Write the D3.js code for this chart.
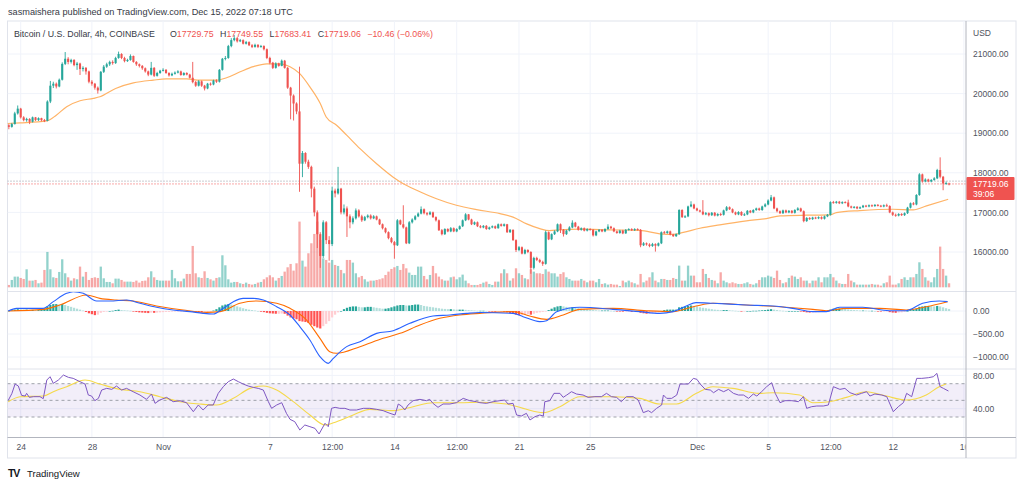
<!DOCTYPE html>
<html><head><meta charset="utf-8">
<script src="https://cdn.jsdelivr.net/npm/d3@7"></script>
<style>
html,body{margin:0;padding:0;background:#fff;}
svg{display:block;font-family:"Liberation Sans",Arial,sans-serif;}
</style></head><body>
<svg id="c" width="1024" height="487"></svg>
<script>
// ---------- DATA ----------
// 4h candles from 2022-10-23 08:00 UTC, [open, high, low, close]
const ohlc = [
[19200,19230,19100,19160],[19160,19260,19140,19230],[19230,19540,19220,19500],[19500,19700,19470,19620],[19620,19640,19370,19400],
[19400,19430,19300,19330],[19330,19390,19290,19360],[19360,19380,19230,19290],[19290,19420,19270,19400],[19400,19410,19310,19330],
// 10
[19330,19400,19310,19380],[19380,19390,19300,19330],[19330,19360,19280,19310],[19310,19830,19300,19800],[19800,20320,19760,20200],
[20200,20300,20140,20250],[20250,20280,20130,20180],[20180,20380,20160,20350],[20350,20790,20330,20750],[20750,21050,20720,20880],
// 20
[20880,20920,20740,20800],[20800,20880,20760,20850],[20850,20870,20690,20720],[20720,20800,20600,20760],[20760,20780,20470,20620],
[20620,20690,20560,20650],[20650,20670,20480,20560],[20560,20580,20260,20300],[20300,20340,20200,20250],[20250,20270,20100,20150],
// 30
[20150,20180,20000,20080],[20080,20570,20060,20550],[20550,20720,20520,20680],[20680,20780,20650,20740],[20740,20830,20700,20800],
[20800,20840,20730,20770],[20770,20930,20750,20900],[20900,21060,20880,21000],[21000,21020,20870,20900],[20900,20930,20790,20820],
// 40
[20820,20880,20800,20850],[20850,20990,20830,20950],[20950,20960,20780,20800],[20800,20820,20700,20740],[20740,20760,20660,20700],
[20700,20720,20600,20640],[20640,20660,20530,20560],[20560,20580,20440,20480],[20480,20800,20460,20650],[20650,20670,20420,20450],
// 50
[20450,20550,20430,20520],[20520,20600,20500,20580],[20580,20640,20560,20600],[20600,20620,20500,20520],[20520,20540,20430,20460],
[20460,20530,20440,20500],[20500,20560,20480,20530],[20530,20590,20510,20560],[20560,20580,20450,20470],[20470,20540,20450,20520],
// 60
[20520,20540,20460,20480],[20480,20500,20380,20400],[20400,20800,20260,20290],[20290,20320,20170,20200],[20200,20340,20180,20310],
[20310,20330,20170,20200],[20200,20220,20080,20130],[20130,20270,20110,20250],[20250,20280,20200,20230],[20230,20350,20210,20330],
// 70
[20330,20360,20270,20300],[20300,20620,20280,20600],[20600,20900,20580,20880],[20880,20950,20840,20900],[20900,21230,20880,21200],
[21200,21400,21170,21350],[21350,21480,21320,21400],[21400,21430,21290,21320],[21320,21380,21300,21350],[21350,21370,21240,21260],
// 80
[21260,21330,21240,21300],[21300,21320,21200,21220],[21220,21250,21150,21180],[21180,21260,21160,21230],[21230,21250,21150,21180],
[21180,21230,21160,21200],[21200,21220,21090,21120],[21120,21140,20870,20900],[20900,20930,20740,20780],[20780,20800,20620,20650],
// 90
[20650,20790,20630,20760],[20760,20780,20680,20700],[20700,20860,20690,20830],[20830,20850,20630,20650],[20650,20670,20120,20150],
[20150,20170,19350,19950],[19950,19980,19320,19750],[19750,19780,19480,19550],[19550,20680,17520,18230],[18230,18550,17890,18500],
// 100
[18500,18520,18230,18280],[18280,18330,18100,18150],[18150,18180,17380,17600],[17600,17650,16900,17000],[17000,17050,16100,16450],
[16450,16500,15600,15900],[15900,16800,15850,16750],[16750,16780,16200,16300],[16300,16400,15780,16200],[16200,17650,16150,17550],
// 110
[17550,17600,17380,17480],[17480,18150,17450,17600],[17600,17620,16950,17000],[17000,17200,16950,17100],[17100,17150,16380,16900],
[16900,16950,16600,16750],[16750,16900,16700,16850],[16850,17100,16820,17050],[17050,17080,16870,16900],[16900,16940,16760,16800],
// 120
[16800,16910,16780,16880],[16880,16950,16850,16920],[16920,16950,16820,16850],[16850,16930,16830,16900],[16900,16920,16800,16820],
[16820,16840,16680,16700],[16700,16720,16570,16600],[16600,16620,16470,16500],[16500,16520,16320,16350],[16350,16380,16220,16250],
// 130
[16250,16280,15830,16170],[16170,16830,16150,16800],[16800,16820,16680,16700],[16700,17180,16590,16620],[16620,16640,16200,16220],
[16220,16780,16200,16750],[16750,16850,16720,16820],[16820,16930,16800,16900],[16900,17000,16880,16970],[16970,17150,16950,17080],
// 140
[17080,17100,16950,16980],[16980,17010,16920,16950],[16950,17030,16930,17000],[17000,17020,16860,16880],[16880,16900,16770,16800],
[16800,16820,16530,16550],[16550,16580,16420,16450],[16450,16600,16430,16580],[16580,16600,16500,16520],[16520,16630,16500,16600],
// 150
[16600,16620,16500,16520],[16520,16600,16500,16580],[16580,16670,16560,16650],[16650,16820,16630,16800],[16800,16980,16780,16950],
[16950,16960,16800,16820],[16820,16840,16680,16700],[16700,16770,16680,16750],[16750,16770,16630,16650],[16650,16680,16600,16620],
// 160
[16620,16680,16600,16660],[16660,16680,16560,16580],[16580,16640,16560,16620],[16620,16670,16600,16650],[16650,16670,16580,16600],
[16600,16720,16590,16700],[16700,16720,16640,16660],[16660,16720,16640,16700],[16700,16710,16480,16500],[16500,16580,16480,16560],
// 170
[16560,16570,16280,16300],[16300,16320,16000,16050],[16050,16150,16020,16120],[16120,16140,15940,15960],[15960,16080,15940,16050],
[16050,16070,15970,16000],[16000,16020,15450,15600],[15600,15880,15560,15850],[15850,15880,15770,15800],[15800,15830,15720,15750],
// 180
[15750,15780,15650,15700],[15700,16540,15680,16500],[16500,16520,16300,16320],[16320,16470,16300,16450],[16450,16550,16430,16520],
[16520,16720,16500,16700],[16700,16720,16480,16560],[16560,16580,16390,16450],[16450,16560,16430,16540],[16540,16650,16520,16620],
// 190
[16620,16800,16600,16740],[16740,16760,16620,16640],[16640,16660,16540,16560],[16560,16620,16540,16600],[16600,16620,16520,16540],
[16540,16600,16520,16580],[16580,16600,16540,16560],[16560,16580,16390,16420],[16420,16540,16400,16520],[16520,16580,16500,16560],
// 200
[16560,16580,16500,16520],[16520,16600,16500,16580],[16580,16700,16560,16640],[16640,16660,16580,16600],[16600,16620,16500,16520],
[16520,16540,16460,16480],[16480,16560,16460,16540],[16540,16560,16450,16470],[16470,16580,16460,16560],[16560,16600,16540,16580],
// 210
[16580,16600,16530,16550],[16550,16600,16530,16580],[16580,16600,16540,16560],[16560,16580,16120,16170],[16170,16250,16150,16220],
[16220,16240,16160,16190],[16190,16220,16120,16150],[16150,16230,16130,16200],[16200,16220,16010,16160],[16160,16240,16140,16220],
// 220
[16220,16520,16200,16500],[16500,16530,16460,16480],[16480,16540,16460,16520],[16520,16540,16420,16440],[16440,16460,16380,16400],
[16400,16470,16380,16450],[16450,17080,16430,17060],[17060,17080,16860,16880],[16880,16930,16860,16900],[16900,17170,16880,17150],
// 230
[17150,17280,17130,17200],[17200,17220,17080,17100],[17100,17120,17030,17050],[17050,17070,17000,17020],[17020,17310,16930,16950],
[16950,17010,16930,16980],[16980,17000,16900,16930],[16930,17010,16910,16990],[16990,17010,16900,16920],[16920,16980,16900,16960],
// 240
[16960,16990,16910,16940],[16940,17070,16920,17050],[17050,17160,17030,17130],[17130,17150,17060,17080],[17080,17100,16980,17000],
[17000,17020,16930,16950],[16950,17030,16930,17010],[17010,17030,16910,16930],[16930,16980,16910,16950],[16950,17060,16930,17040],
// 250
[17040,17060,16980,17000],[17000,17080,16980,17060],[17060,17120,17040,17100],[17100,17120,17040,17060],[17060,17170,17040,17150],
[17150,17230,17130,17200],[17200,17330,17180,17300],[17300,17440,17280,17380],[17380,17400,17080,17100],[17100,17120,17000,17030],
// 260
[17030,17050,16960,16980],[16980,17070,16960,17050],[17050,17070,16980,17000],[17000,17060,16980,17040],[17040,17060,16970,16990],
[16990,17080,16970,17060],[17060,17130,17040,17100],[17100,17120,17010,17030],[17030,17050,16750,16780],[16780,16880,16760,16860],
// 270
[16860,16880,16810,16830],[16830,16890,16810,16870],[16870,16890,16830,16850],[16850,16900,16830,16880],[16880,16900,16820,16840],
[16840,16920,16820,16900],[16900,16960,16880,16940],[16940,17280,16920,17260],[17260,17290,17220,17240],[17240,17290,17220,17270],
// 280
[17270,17290,17210,17230],[17230,17280,17210,17260],[17260,17280,17230,17250],[17250,17320,17130,17150],[17150,17170,17100,17120],
[17120,17160,17100,17140],[17140,17160,17080,17100],[17100,17150,17090,17130],[17130,17190,17110,17170],[17170,17190,17130,17150],
// 290
[17150,17200,17130,17180],[17180,17200,17140,17160],[17160,17210,17140,17190],[17190,17210,17150,17170],[17170,17190,17130,17150],
[17150,17200,17130,17180],[17180,17220,17140,17160],[17160,17180,16980,17000],[17000,17020,16910,16940],[16940,16970,16890,16920],
// 300
[16920,16980,16900,16960],[16960,16980,16910,16930],[16930,17000,16910,16980],[16980,17140,16960,17120],[17120,17250,17100,17230],
[17230,17260,17180,17200],[17200,17460,17180,17440],[17440,17990,17420,17960],[17960,17980,17750,17780],[17780,17860,17760,17830],
// 310
[17830,17850,17760,17780],[17780,17840,17760,17820],[17820,17890,17800,17860],[17860,18100,17840,18070],[18070,18390,17860,17900],
[17900,17920,17560,17730],[17730,17780,17700,17740],[17729.75,17749.55,17683.41,17719.06]
];

// volume per candle (relative units)
const volumes = [
7,22,32,32,28,25,54,20,20,22, 12,14,52,106,54,30,28,46,84,42, 30,20,27,24,62,32,46,22,28,30,
28,62,27,16,16,12,26,26,22,17, 17,17,16,20,14,19,20,30,48,30, 22,20,20,20,20,52,27,18,18,26,
40,40,124,42,30,28,48,28,24,20, 28,30,96,66,24,14,16,16,12,10, 14,10,8,10,14,16,24,30,36,30,
20,28,34,47,60,70,50,72,197,80, 62,102,132,160,197,142,87,82,74,82, 67,64,52,42,82,82,74,42,30,34,
24,17,20,20,22,24,27,37,47,55, 60,64,52,70,57,44,37,37,62,62, 34,24,37,64,42,32,24,20,20,30,
32,24,30,38,20,12,7,7,7,10, 14,17,10,7,17,17,42,54,42,20, 27,57,42,37,27,24,54,47,42,42,
40,54,47,42,42,32,40,45,30,25, 20,20,20,25,20,15,20,20,15,25, 10,12,8,10,8,8,4,20,15,20,
15,12,8,40,15,20,30,45,20,15, 25,25,22,22,28,25,65,20,20,65, 35,35,15,15,55,40,28,22,20,12,
45,20,15,12,15,12,10,10,12,15, 10,8,12,22,30,30,35,32,28,50, 22,12,15,28,35,32,25,30,20,20,
12,20,20,30,15,30,30,40,30,20, 12,10,10,40,20,15,8,8,8,8, 8,10,8,8,5,12,15,35,8,8,
12,25,30,22,30,30,40,75,55,30, 20,15,30,55,122,55,35,12
];

// moving average on price, [candle index, value]
const maPoints = [[-0.5,19245],[3.8,19260],[12.8,19310],[16,19455],[19.5,19670],[24,19820],[28.5,19880],[30.7,19920],[36,20130],[42,20270],[48.7,20340],[53,20370],[60,20370],[64.4,20340],[70,20340],[73.4,20400],[78,20550],[82.4,20680],[87,20750],[91.4,20750],[94.8,20680],[98,20510],[101.5,20170],[105,19750],[107,19410],[110.5,19200],[113.9,18950],[118.4,18610],[124,18230],[129.6,17890],[133,17725],[137.5,17560],[144.2,17345],[150.9,17180],[157.7,17070],[165.6,16970],[170,16880],[174.6,16710],[179,16590],[182.3,16540],[185.8,16560],[192.5,16577],[202.6,16560],[212.7,16544],[219.5,16460],[224,16444],[227.4,16494],[233,16600],[239.7,16686],[248.7,16787],[255.4,16845],[260,16912],[269,16929],[276.8,16937],[279,16996],[286.9,17046],[298,17080],[304.9,17063],[309.4,17163],[316.7,17331]];

// MACD line and signal, [candle index, value]
const macdPoints = [[-0.2,0],[2.6,58],[11.6,58],[15,203],[19.5,384],[21.7,420],[25.1,384],[29.6,217],[34.1,217],[39.7,239],[44.2,167],[49.8,80],[55.4,22],[61.1,-14],[65.5,-51],[68.9,-65],[72.3,58],[75.7,203],[79,275],[82.4,275],[85.8,239],[90.3,94],[94.8,-87],[98.1,-341],[101.5,-630],[104.9,-993],[107.7,-1138],[109.4,-1029],[113.9,-775],[118.4,-667],[124,-486],[129.6,-428],[135.2,-268],[143,-109],[148.7,-87],[154.3,-51],[158.8,-32],[170,-51],[173.4,-123],[179,-232],[181.3,-210],[184.7,-14],[192.5,80],[203.7,36],[212.7,-14],[219.4,-51],[223.9,-14],[228.4,109],[231.7,181],[237.4,167],[248.6,130],[257.6,109],[264.3,58],[271.1,-14],[275.6,-14],[280.1,80],[287.9,80],[296.9,7],[302.5,7],[308.1,167],[313.7,217],[316.5,203]];
const signalPoints = [[-0.2,0],[11.6,36],[17.2,130],[26.2,348],[30.7,275],[36.3,239],[41.9,217],[49.8,109],[58.8,22],[66.7,-29],[71.2,-14],[77.9,167],[83.5,217],[90.3,167],[94.8,58],[100.4,-196],[104.9,-594],[108.2,-884],[110.5,-920],[118.4,-775],[126.2,-594],[131.9,-486],[138.6,-304],[145.3,-159],[152,-87],[158.8,-51],[170,-14],[175.6,-109],[181.3,-181],[186.9,-87],[192.5,36],[203.7,58],[215,7],[223.9,-14],[231.7,109],[237.4,167],[248.6,130],[259.9,94],[271.1,36],[275.6,7],[282.4,58],[293.6,58],[302.5,22],[309.3,94],[316.5,203]];
// MACD histogram per candle
const histogram = [
5,15,30,40,35,30,30,25,25,20, 20,40,60,100,130,150,150,140,150,130, 110,90,70,50,30,10,-20,-50,-70,-90,
-80,-40,-20,-10,0,5,20,30,20,15, 10,5,-10,-20,-30,-35,-40,-45,-35,-40, -35,-30,-25,-20,-20,-15,-12,-10,-10,-8,
-10,-15,-20,-25,-28,-30,-30,-25,-15,10, 40,80,120,140,150,140,120,100,80,60, 45,30,20,10,0,-15,-25,-40,-50,-55,
-60,-60,-55,-60,-100,-140,-160,-180,-220,-230, -240,-260,-300,-330,-360,-380,-330,-280,-220,-140, -80,-30,0,40,70,90,100,100,90,80,
80,90,90,80,70,60,50,50,60,80, 100,120,130,130,120,120,130,140,140,130, 110,100,90,80,70,60,50,45,40,40,
35,30,30,30,25,20,15,10,5,5, 5,0,-5,-10,-15,-10,-5,-10,-30,-45, -60,-80,-90,-90,-80,-70,-80,-60,-40,-30,
-20,-10,20,50,80,100,110,100,90,80, 80,70,60,50,45,40,30,20,15,10, 10,10,10,5,0,-5,-10,-15,-15,-15,
-20,-20,-20,-40,-50,-60,-60,-50,-40,-30, -10,20,30,30,30,30,80,90,95,110, 120,110,100,80,70,60,50,40,30,25,
20,20,20,15,10,5,0,-5,-5,0, 0,5,5,10,15,20,30,40,30,20, 10,5,0,0,0,0,0,-5,-20,-30,
-35,-35,-30,-25,-20,-15,-5,30,50,55, 55,50,45,35,25,20,15,10,10,8, 5,5,0,-5,-10,-10,-10,-25,-35,-40,
-35,-30,-20,0,20,30,50,90,100,110, 110,105,100,110,100,80,60,45
];

// RSI and its moving average, [candle index, value]
const rsiPoints = [[-0.2,50],[1,58],[2.1,69.6],[3.2,67.2],[4.3,56],[5.5,55.2],[6,58.4],[6.9,53.6],[8.3,54.4],[10.5,54.4],[11.6,52],[12.8,74.4],[13.9,78.4],[15,70.4],[16.7,74.4],[18.4,80.4],[20.1,77.6],[21.7,76.4],[24,72.4],[25.7,69.6],[26.8,56.4],[27.9,55.2],[29,49.6],[30.2,52.4],[31.3,62.4],[33,64.4],[34.7,63.2],[36.3,67.2],[38,62.4],[39.7,64.4],[41.9,60.4],[44.2,56.4],[46.4,51.2],[48.1,57.6],[49.3,46.4],[50.9,50.4],[53.2,53.6],[55.4,48.4],[57.7,49.6],[59.9,47.2],[62.2,36.4],[63.9,44.4],[65.5,38.4],[67.2,44.4],[68.9,44.4],[70.6,58.4],[72.3,66.4],[74,72.4],[75.7,75.6],[77.4,72.4],[79,69.6],[80.7,67.2],[82.4,65.6],[84.1,64.4],[85.8,62.4],[87.5,48.4],[88.6,40.4],[90.3,44.4],[92,47.2],[93.6,34.4],[94.8,27.2],[96.4,24.4],[98.1,14.4],[99.8,20.4],[101.5,18.4],[103.2,16.4],[104.6,9.6],[106.6,22.4],[107.7,18.4],[108.8,40.4],[110,41.6],[111.6,40.4],[113.3,40.4],[115,38.4],[117.2,38.4],[119.5,40.4],[121.7,40.4],[124,39.2],[126.2,37.6],[128.5,34.4],[130.2,32.4],[131.3,45.6],[132.4,43.2],[133.5,38.4],[134.6,44.4],[136.3,49.6],[138.6,51.2],[140.8,49.6],[141.9,51.2],[143,46.4],[144.7,41.6],[146.4,45.6],[148.7,45.6],[150.9,47.2],[153.2,52.4],[155.4,49.6],[157.7,48.4],[158.8,47.2],[161,46.4],[163.3,48.4],[165.5,49.6],[167.2,50.4],[168.3,45.6],[170,46.4],[171.2,32.4],[172.8,31.2],[174.5,34.4],[175.7,26.4],[177.4,30.4],[179,32.4],[180.2,31.2],[180.7,48.4],[182.4,49.6],[183.8,58.4],[185.8,58.4],[186.9,53.6],[188.1,56.4],[189.7,60.4],[191.4,57.6],[193.6,56.4],[195.3,53.6],[197.6,54.4],[199.8,54.4],[201.5,58.4],[203.2,54.4],[204.9,53.6],[206.5,48.4],[208.2,54.4],[210.5,54.4],[212.2,50.4],[213.9,35.2],[215.6,37.6],[216.7,35.2],[218.4,40.4],[220.1,44.4],[220.7,56.4],[221.8,52.4],[223.5,52.4],[225.2,56.4],[226.3,69.6],[228,69.6],[229.1,69.6],[230.8,76.4],[232,75.2],[233.1,69.6],[234.8,63.2],[236.5,62.4],[237.6,59.2],[239.3,63.2],[241,60.4],[242.6,63.2],[244.3,58.4],[246,56.4],[247.7,56.4],[249.4,52.4],[251,57.6],[252.2,55.2],[253.8,60.4],[255.5,66.4],[257.2,71.2],[258.4,58.4],[260,47.2],[261.7,49.6],[264,49.6],[266.2,48.4],[267.9,54.4],[269,40.4],[270.7,42.4],[272.4,43.2],[274.6,43.2],[276.3,44.4],[278,66.4],[280.2,63.2],[281.9,64.4],[283.6,59.2],[285.8,56.4],[287.5,58.4],[289.2,60.4],[290.3,55.2],[292,57.6],[294.3,56.4],[296,54.4],[298.2,36.4],[299.9,42.4],[301.6,47.2],[302.7,58.4],[304.4,54.4],[306.1,76.4],[307.8,76.4],[310,77.2],[311.7,78.4],[312.9,82.4],[314,66.4],[315.1,64.4],[316.8,61.2]];
const rsiMaPoints = [[-0.2,48.4],[3.8,54.4],[11.6,55.2],[15,60.4],[19.5,66.4],[25.7,74.4],[30.7,69.6],[37.5,63.2],[44.2,60.4],[50.9,54.4],[57.7,48.4],[64.4,45.6],[70,44.4],[75.7,52.4],[81.3,64.4],[85.8,67.2],[90.3,62.4],[95.9,48.4],[101.5,32.4],[106.6,20.4],[110.5,24.4],[116.1,32.4],[121.7,39.2],[129.6,37.6],[136.3,42.4],[143,47.2],[152,47.2],[158.8,47.8],[167.8,45.6],[173.4,40.4],[180.2,35.2],[185.8,42.4],[192.5,54.4],[203.7,54.4],[212.7,52.4],[219.4,45.6],[225.1,45.6],[231.8,58.4],[237.4,66.4],[244.1,64.4],[253.1,58.4],[257.6,59.2],[266.6,56.4],[271.1,47.2],[276.7,48.4],[282.4,53.6],[289.1,60.4],[295.8,55.2],[302.5,50.4],[309.3,56.4],[313.7,66.4],[316,69.6]];

// axes / labels
const priceTicks = [16000,17000,18000,19000,20000,21000];
const macdTicks = [0,-500,-1000];
const rsiTicks = [80,40];
const rsiLevels = [70,50,30];
const timeTicks = ["2022-10-24T00:00Z","2022-10-28T00:00Z","2022-11-01T00:00Z","2022-11-07T00:00Z","2022-11-10T12:00Z","2022-11-14T00:00Z","2022-11-17T12:00Z","2022-11-21T00:00Z","2022-11-25T00:00Z","2022-12-01T00:00Z","2022-12-05T00:00Z","2022-12-08T12:00Z","2022-12-12T00:00Z","2022-12-16T00:00Z"];
const timeLabels = ["24","28","Nov","7","12:00","14","12:00","21","25","Dec","5","12:00","12","16"];
const lastPrice = 17719.06;
const refLinePrice = 17790;
const legendTitle = "Bitcoin / U.S. Dollar, 4h, COINBASE";
const legendKeys = ["O","H","L","C"];
const legendChange = "\u221210.46 (\u22120.06%)";

// ---------- LAYOUT ----------
const svg = d3.select("#c");
const FONT = "'Liberation Sans', Arial, sans-serif";
const H4 = 4*3600*1000;
const t0 = Date.UTC(2022,9,23,8);
const tAt = i => new Date(t0 + i*H4);
const X0 = 7.5, X1 = 966, TOP = 21, MAIN_B = 291.5, MACD_B = 369, RSI_B = 437.5, AX_B = 458;

const x = d3.scaleUtc().domain([new Date(Date.UTC(2022,9,24)), new Date(Date.UTC(2022,11,12))]).range([20.7, 892.7]);
const xi = i => x(tAt(i));
const yP = d3.scaleLinear().domain([16000,21000]).range([252,54]);
const yV = d3.scaleLinear().domain([0,200]).range([287.3,220.6]);
const yM = d3.scaleLinear().domain([-1000,0]).range([357,311]);
const yR = d3.scaleLinear().domain([30,70]).range([417,383.7]);

const UP = "#26a69a", DOWN = "#ef5350";
const GRID = "#f0f3fa";

const defs = svg.append("defs");
defs.append("clipPath").attr("id","plot").append("rect").attr("x",X0).attr("y",TOP).attr("width",X1-X0).attr("height",RSI_B-TOP);
defs.append("clipPath").attr("id","axclip").append("rect").attr("x",0).attr("y",RSI_B).attr("width",X1-0.5).attr("height",30);

// header
svg.append("text").attr("x",8).attr("y",15).attr("font-size",9.4).attr("fill","#363a45").attr("font-family",FONT)
  .attr("textLength",285).attr("lengthAdjust","spacingAndGlyphs")
  .text("sasmaishera published on TradingView.com, Dec 15, 2022 07:18 UTC");

// frame
svg.append("rect").attr("x",X0).attr("y",TOP).attr("width",1016-X0).attr("height",AX_B-TOP)
  .attr("fill","none").attr("stroke","#e0e3eb");

const plot = svg.append("g").attr("clip-path","url(#plot)");

// grid
const tickDates = timeTicks.map(s => new Date(s));
plot.append("g").selectAll("line").data(tickDates).join("line")
  .attr("x1",d=>x(d)).attr("x2",d=>x(d)).attr("y1",TOP).attr("y2",RSI_B)
  .attr("stroke",GRID).attr("stroke-width",1);
plot.append("g").selectAll("line").data(priceTicks).join("line")
  .attr("x1",X0).attr("x2",X1).attr("y1",d=>yP(d)).attr("y2",d=>yP(d)).attr("stroke",GRID);
plot.append("g").selectAll("line").data(macdTicks).join("line")
  .attr("x1",X0).attr("x2",X1).attr("y1",d=>yM(d)).attr("y2",d=>yM(d)).attr("stroke",GRID);
plot.append("g").selectAll("line").data(rsiTicks).join("line")
  .attr("x1",X0).attr("x2",X1).attr("y1",d=>yR(d)).attr("y2",d=>yR(d)).attr("stroke",GRID);

// pane separators
[MAIN_B, MACD_B].forEach(yy => svg.append("line").attr("x1",X0).attr("x2",1016).attr("y1",yy).attr("y2",yy).attr("stroke","#e0e3eb"));

// price reference dotted lines
plot.append("line").attr("x1",X0).attr("x2",X1).attr("y1",yP(refLinePrice)).attr("y2",yP(refLinePrice))
  .attr("stroke","#9598a1").attr("stroke-dasharray","1,2").attr("stroke-width",1);
plot.append("line").attr("x1",X0).attr("x2",X1).attr("y1",yP(lastPrice)).attr("y2",yP(lastPrice))
  .attr("stroke",DOWN).attr("stroke-dasharray","1,2").attr("stroke-width",1);

// volume
const isUp = d => d[3] >= d[0];
plot.append("g").selectAll("rect").data(volumes).join("rect")
  .attr("x",(v,i)=>xi(i)-1.15).attr("width",2.3)
  .attr("y",v=>yV(v)).attr("height",v=>yV(0)-yV(v))
  .attr("fill",(v,i)=> isUp(ohlc[i]) ? "rgba(38,166,154,0.5)" : "rgba(239,83,80,0.5)");

// MA line
const lineIdx = (ys) => d3.line().x(d=>xi(d[0])).y(d=>ys(d[1])).curve(d3.curveMonotoneX);
plot.append("path").datum(maPoints).attr("d",lineIdx(yP)).attr("fill","none")
  .attr("stroke","#ffb366").attr("stroke-width",1.2);

// candles
const cg = plot.append("g");
cg.selectAll("line").data(ohlc).join("line")
  .attr("x1",(d,i)=>xi(i)).attr("x2",(d,i)=>xi(i))
  .attr("y1",d=>yP(d[1])).attr("y2",d=>yP(d[2]))
  .attr("stroke",d=>isUp(d)?UP:DOWN).attr("stroke-width",0.9);
cg.selectAll("rect").data(ohlc).join("rect")
  .attr("x",(d,i)=>xi(i)-1.05).attr("width",2.1)
  .attr("y",d=>yP(Math.max(d[0],d[3])))
  .attr("height",d=>Math.max(1,Math.abs(yP(d[0])-yP(d[3]))))
  .attr("fill",d=>isUp(d)?UP:DOWN);

// MACD histogram
plot.append("g").selectAll("rect").data(histogram).join("rect")
  .attr("x",(h,i)=>xi(i)-1.1).attr("width",2.2)
  .attr("y",h=>Math.min(yM(h),yM(0))).attr("height",h=>Math.max(0.6,Math.abs(yM(h)-yM(0))))
  .attr("fill",(h,i)=>{
    const p = i>0 ? histogram[i-1] : h;
    if (h >= 0) return h >= p ? "#26a69a" : "#b2dfdb";
    return h < p ? "#ff5252" : "#ffcdd2";
  });
plot.append("path").datum(signalPoints).attr("d",lineIdx(yM)).attr("fill","none").attr("stroke","#ff6d00").attr("stroke-width",1.1);
plot.append("path").datum(macdPoints).attr("d",lineIdx(yM)).attr("fill","none").attr("stroke","#2962ff").attr("stroke-width",1.1);

// RSI
plot.append("rect").attr("x",X0).attr("width",X1-X0).attr("y",yR(70)).attr("height",yR(30)-yR(70))
  .attr("fill","rgba(126,87,194,0.1)");
plot.append("g").selectAll("line").data(rsiLevels).join("line")
  .attr("x1",X0).attr("x2",X1).attr("y1",d=>yR(d)).attr("y2",d=>yR(d))
  .attr("stroke","#9598a1").attr("stroke-dasharray","3,3").attr("stroke-width",0.9);
plot.append("path").datum(rsiMaPoints).attr("d",lineIdx(yR)).attr("fill","none").attr("stroke","#f5d94a").attr("stroke-width",1.1);
plot.append("path").datum(rsiPoints).attr("d",d3.line().x(d=>xi(d[0])).y(d=>yR(d[1]))).attr("fill","none")
  .attr("stroke","#7e57c2").attr("stroke-width",1);

// axis separators
svg.append("line").attr("x1",X1).attr("x2",X1).attr("y1",TOP).attr("y2",AX_B).attr("stroke","#b2b5be");
svg.append("line").attr("x1",X0).attr("x2",1016).attr("y1",RSI_B).attr("y2",RSI_B).attr("stroke","#b2b5be");

// right axes
const AXC = "#50535e";
function styleAxis(g){
  g.select(".domain").remove();
  g.attr("font-family",FONT).attr("font-size",8.5);
  g.selectAll("text").attr("fill",AXC);
}
svg.append("g").attr("transform",`translate(${X1},0)`)
  .call(d3.axisRight(yP).tickValues(priceTicks).tickFormat(d=>d.toFixed(2)).tickSize(0).tickPadding(7)).call(styleAxis);
svg.append("g").attr("transform",`translate(${X1},0)`)
  .call(d3.axisRight(yM).tickValues(macdTicks).tickFormat(d=> d===0 ? "0.00" : "\u2212"+Math.abs(d).toFixed(2)).tickSize(0).tickPadding(7)).call(styleAxis);
svg.append("g").attr("transform",`translate(${X1},0)`)
  .call(d3.axisRight(yR).tickValues(rsiTicks).tickFormat(d=>d.toFixed(2)).tickSize(0).tickPadding(7)).call(styleAxis);
svg.append("text").attr("x",973).attr("y",36).attr("font-size",8.5).attr("fill",AXC).attr("font-family",FONT).text("USD");

// time axis
svg.append("g").attr("clip-path","url(#axclip)").append("g").attr("transform",`translate(0,${RSI_B})`)
  .call(d3.axisBottom(x).tickValues(tickDates).tickFormat((d,i)=>timeLabels[i]).tickSize(0).tickPadding(6)).call(styleAxis);

// last price label
const ly = yP(lastPrice);
svg.append("rect").attr("x",X1+0.5).attr("y",ly-7).attr("width",48).attr("height",23).attr("fill",DOWN).attr("rx",1);
svg.append("text").attr("x",973).attr("y",ly+3).attr("font-size",8.5).attr("fill","#fff").attr("font-family",FONT).text(lastPrice.toFixed(2));
svg.append("text").attr("x",973).attr("y",ly+13).attr("font-size",8.5).attr("fill","#fff").attr("font-family",FONT).text("39:06");

// legend (laid out sequentially so items never overlap)
const last = ohlc[ohlc.length-1];
const leg = svg.append("g").attr("font-family",FONT).attr("font-size",8.8);
leg.append("text").attr("x",14).attr("y",36.5).attr("fill","#363a45").text(legendTitle);
let lx = 170;
legendKeys.forEach((k,j) => {
  const t = leg.append("text").attr("x",lx).attr("y",36.5);
  t.append("tspan").attr("fill","#363a45").text(k);
  t.append("tspan").attr("fill",DOWN).text(last[j===0?0:j===1?1:j===2?2:3].toFixed(2));
  lx += t.node().getComputedTextLength() + 6.5;
});
leg.append("text").attr("x",lx).attr("y",36.5).attr("fill",DOWN).text(legendChange);

// footer logo
const logo = svg.append("g").attr("font-family",FONT);
logo.append("text").attr("x",8).attr("y",477).attr("font-size",10.5).attr("font-weight",900).attr("fill","#131722").attr("letter-spacing",-1.2).text("TV");
logo.append("text").attr("x",27).attr("y",477).attr("font-size",9.6).attr("fill","#131722").text("TradingView");
</script>
</body></html>
